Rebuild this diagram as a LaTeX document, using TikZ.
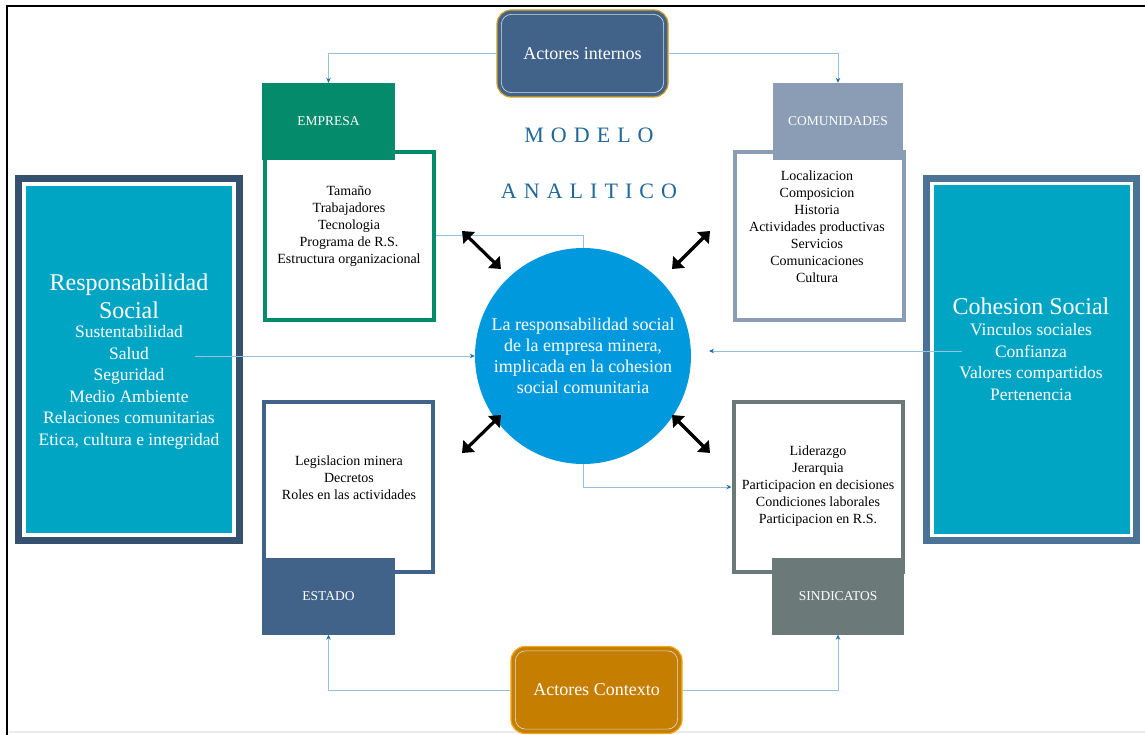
\documentclass[tikz,border=0pt]{standalone}
\usepackage{fontspec}
\setmainfont{Liberation Serif}
\usetikzlibrary{arrows.meta,positioning}

\definecolor{verdeemp}{RGB}{3,139,108}
\definecolor{grisazul}{RGB}{139,157,180}
\definecolor{azulest}{RGB}{65,99,137}
\definecolor{grissin}{RGB}{107,121,120}
\definecolor{circulo}{RGB}{0,153,221}
\definecolor{turquesa}{RGB}{0,165,196}
\definecolor{marcoizq}{RGB}{52,81,111}
\definecolor{marcoder}{RGB}{75,114,151}
\definecolor{ocre}{RGB}{197,126,0}
\definecolor{ocreborde}{RGB}{240,170,30}
\definecolor{oro}{RGB}{214,160,30}
\definecolor{linea}{RGB}{150,193,222}
\definecolor{punta}{RGB}{31,110,170}
\definecolor{titulo}{RGB}{31,104,155}

\tikzset{
  actor/.style={rounded corners=14pt, line width=1.2pt, inner sep=0, text=white,
    minimum width=171pt, minimum height=87pt, font=\fontsize{18}{21}\selectfont},
  cabeza/.style={inner sep=0, minimum width=133pt, minimum height=77pt, text=white,
    font=\fontsize{13.5}{16}\selectfont},
  marco/.style={draw, fill=white, line width=4pt, inner sep=0, minimum width=169pt},
  lista/.style={align=center, font=\fontsize{14}{17}\selectfont},
  lado/.style={align=center, text=white, font=\fontsize{17.5}{21.5}\selectfont},
  link/.style={draw=linea, line width=1pt},
  flecha/.style={-{Stealth[length=5pt,width=4.5pt,color=punta]}},
  doble/.style={line width=3.2pt, {Triangle[length=10pt,width=16pt]}-{Triangle[length=10pt,width=16pt]}}
}

\begin{document}
\begin{tikzpicture}[x=1pt,y=-1pt]
  \useasboundingbox (0,0) rectangle (1145,735);
  \fill[white] (0,0) rectangle (1145,735);
  \draw[line width=2pt] (7,735) -- (7,6) -- (1145,6);
  \draw[black!8, line width=1.5pt] (9,732) -- (1145,732);

  % actores
  \node[actor, fill=azulest, draw=oro] (internos) at (582.5,53.5) {Actores internos};
  \node[actor, fill=ocre, draw=ocreborde] (contexto) at (596.5,690) {Actores Contexto};
  \foreach \act in {internos,contexto}
    \draw[white!75!gray, line width=0.6pt, rounded corners=10pt]
      ([shift={(5pt,-5pt)}]\act.north west) rectangle ([shift={(-5pt,5pt)}]\act.south east);

  % titulo
  \node[text=titulo, font=\fontsize{22}{26}\selectfont\addfontfeature{LetterSpace=32}] (modelo) at (589,135) {MODELO};
  \node[text=titulo, font=\fontsize{22}{26}\selectfont\addfontfeature{LetterSpace=32}] (analitico) at (589,191) {ANALITICO};

  % actores internos
  \node[marco, draw=verdeemp, minimum height=168pt] (empmarco) at (349,236) {};
  \node[cabeza, fill=verdeemp] (emphead) at (328.5,121.5) {EMPRESA};
  \node[lista] (emptxt) at (349,226.5) {Tamaño\\Trabajadores\\Tecnologia\\Programa de R.S.\\Estructura organizacional};

  \node[marco, draw=grisazul, minimum height=168pt] (commarco) at (819,236) {};
  \node[cabeza, fill=grisazul, minimum width=130pt] (comhead) at (838,121.5) {COMUNIDADES};
  \node[lista] (comtxt) at (817,226.5) {Localizacion\\Composicion\\Historia\\Actividades productivas\\Servicios\\Comunicaciones\\Cultura};

  % actores contexto
  \node[marco, draw=azulest, minimum height=170pt] (estmarco) at (348.5,487) {};
  \node[cabeza, fill=azulest] (esthead) at (328.5,596) {ESTADO};
  \node[lista] (esttxt) at (349,478) {Legislacion minera\\Decretos\\Roles en las actividades};

  \node[marco, draw=grissin, minimum height=170pt] (sinmarco) at (818,487) {};
  \node[cabeza, fill=grissin, minimum width=132pt] (sinhead) at (838,596) {SINDICATOS};
  \node[lista] (sintxt) at (818,486.5) {Liderazgo\\Jerarquia\\Participacion en decisiones\\Condiciones laborales\\Participacion en R.S.};

  % responsabilidad social
  \node[draw=marcoizq, line width=7pt, inner sep=0, minimum width=221pt, minimum height=362pt] (rsmarco) at (129,359.5) {};
  \node[fill=turquesa, inner sep=0, minimum width=206pt, minimum height=347pt] (rsfondo) at (129,359.5) {};
  \node[lado, font=\fontsize{24}{28}\selectfont] (rstit) at (129,296) {Responsabilidad\\Social};
  \node[lado] (rslist) at (129,387.5) {Sustentabilidad\\Salud\\Seguridad\\Medio Ambiente\\Relaciones comunitarias\\Etica, cultura e integridad};

  % cohesion social
  \node[draw=marcoder, line width=7pt, inner sep=0, minimum width=210pt, minimum height=362pt] (csmarco) at (1031.5,359.5) {};
  \node[fill=turquesa, inner sep=0, minimum width=196pt, minimum height=348pt] (csfondo) at (1031.5,359.5) {};
  \node[lado, font=\fontsize{24}{28}\selectfont] (cstit) at (1031,306) {Cohesion Social};
  \node[lado] (cslist) at (1031,362) {Vinculos sociales\\Confianza\\Valores compartidos\\Pertenencia};

  % centro
  \node[circle, fill=circulo, inner sep=0, minimum size=216pt, text=white, align=center,
        font=\fontsize{18}{21}\selectfont] (centro) at (583,356)
        {La responsabilidad social\\de la empresa minera,\\implicada en la cohesion\\social comunitaria};

  % conexiones
  \draw[link, flecha] (internos.west) -| (emphead.north);
  \draw[link, flecha] (internos.east) -| (comhead.north);
  \draw[link, flecha] (contexto.west) -| (esthead.south);
  \draw[link, flecha] (contexto.east) -| (sinhead.south);
  \draw[link] (empmarco.east) -| (centro.north);
  \draw[link, flecha] (centro.south) |- (sinmarco.west);

  \coordinate (rsfrom) at (195,356);
  \coordinate (csfrom) at (962,351);
  \coordinate (csto) at (709,351);
  \draw[link, flecha] (rsfrom) -- (centro.west);
  \draw[link, flecha] (csfrom) -- (csto);

  % flechas dobles
  \coordinate (ul1) at (462,231); \coordinate (ul2) at (501,269);
  \coordinate (ur1) at (672,269); \coordinate (ur2) at (710,231);
  \coordinate (ll1) at (462,453); \coordinate (ll2) at (501,415);
  \coordinate (lr1) at (672,415); \coordinate (lr2) at (710,453);
  \foreach \a/\b in {ul1/ul2,ur1/ur2,ll1/ll2,lr1/lr2}
    \draw[doble] (\a) -- (\b);
\end{tikzpicture}
\end{document}
